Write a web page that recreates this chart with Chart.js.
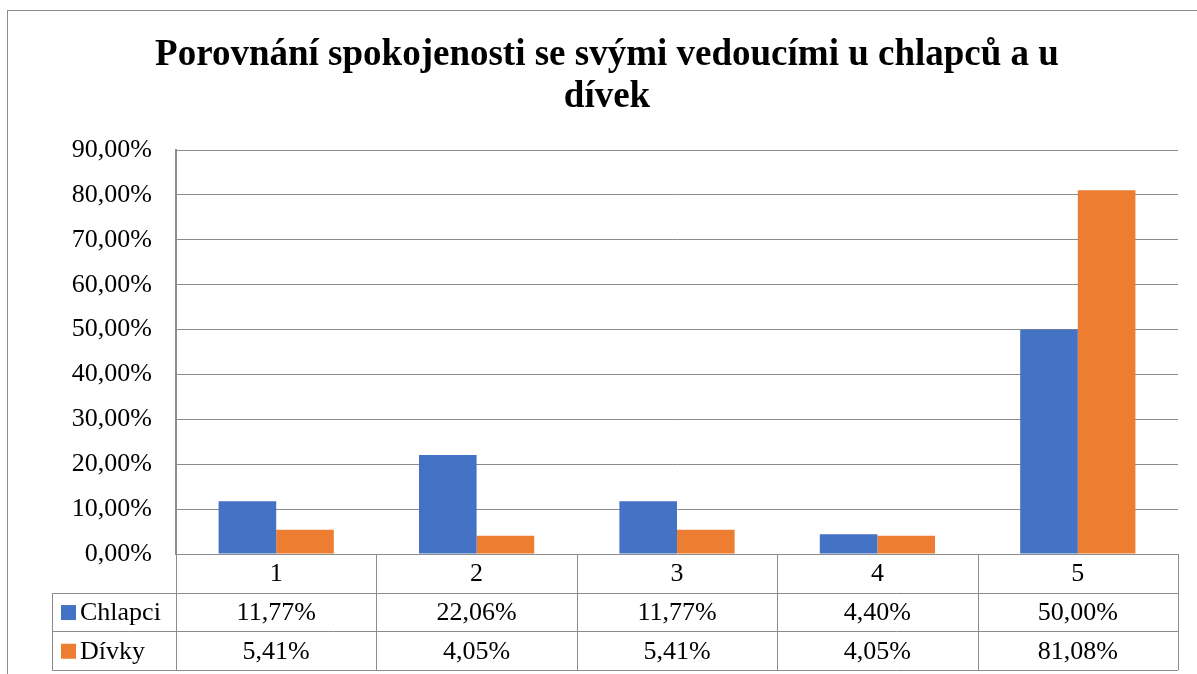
<!DOCTYPE html>
<html>
<head>
<meta charset="utf-8">
<script src="https://cdn.jsdelivr.net/npm/chart.js@4/dist/chart.umd.min.js"></script>
<style>
    html, body { margin: 0; padding: 0; background: #fff; }
    #wrap { position: absolute; left: 0; top: 0; width: 1197px; height: 674px; }
    #frame { position: absolute; left: 7px; top: 10px; width: 1200px; height: 700px; border: 1px solid #8c8c8c; box-sizing: border-box; }
    canvas { position: absolute; left: 0; top: 0; }
</style>
</head>
<body>
<div id="wrap">
    <div id="frame"></div>
    <canvas id="barChart" width="1197" height="674"></canvas>
</div>
<script>
// data
const categories = ['1', '2', '3', '4', '5'];
const chlapci = [11.77, 22.06, 11.77, 4.40, 50.00];
const divky = [5.41, 4.05, 5.41, 4.05, 81.08];
const seriesNames = ['Chlapci', 'Dívky'];
const seriesColors = ['#4472C4', '#ED7D31'];
const yTicks = [0, 10, 20, 30, 40, 50, 60, 70, 80, 90];

const FONT = '"Liberation Serif", "Times New Roman", serif';

function pct(v) {
    return v.toFixed(2).replace('.', ',') + '%';
}

// draws the data table under the plot (Excel style)
const dataTablePlugin = {
    id: 'dataTable',
    afterDraw(chart) {
        const ctx = chart.ctx;
        const x = chart.scales.x;
        const area = chart.chartArea;
        const rowH = 38.7;
        const top = area.bottom;
        const legendLeft = 52;
        const rows = [chlapci, divky];

        ctx.save();
        ctx.strokeStyle = '#8c8c8c';
        ctx.lineWidth = 1;

        // column edges from the category scale
        const step = x.getPixelForValue(1) - x.getPixelForValue(0);
        const edges = [];
        for (let i = 0; i < categories.length; i++) {
            edges.push(x.getPixelForValue(i) - step / 2);
        }
        edges.push(area.right);

        ctx.beginPath();
        edges.forEach(e => {
            ctx.moveTo(Math.round(e) + 0.5, top);
            ctx.lineTo(Math.round(e) + 0.5, Math.round(top + rowH * 3));
        });
        for (let r = 1; r <= 3; r++) {
            const yy = Math.round(top + rowH * r) + 0.5;
            ctx.moveTo(legendLeft, yy);
            ctx.lineTo(area.right, yy);
        }
        ctx.moveTo(legendLeft + 0.5, Math.round(top + rowH) + 0.5);
        ctx.lineTo(legendLeft + 0.5, Math.round(top + rowH * 3) + 0.5);
        ctx.stroke();

        ctx.fillStyle = '#000';
        ctx.font = '26px ' + FONT;
        ctx.textAlign = 'center';
        ctx.textBaseline = 'middle';
        categories.forEach((c, i) => {
            ctx.fillText(c, x.getPixelForValue(i), top + rowH / 2 + 1);
        });
        rows.forEach((vals, r) => {
            const cy = top + rowH * (r + 1.5) + 1;
            vals.forEach((v, i) => {
                ctx.fillText(pct(v), x.getPixelForValue(i), cy);
            });
            ctx.fillStyle = seriesColors[r];
            ctx.fillRect(legendLeft + 9, cy - 8, 15, 15);
            ctx.fillStyle = '#000';
            ctx.textAlign = 'left';
            ctx.fillText(seriesNames[r], legendLeft + 28, cy);
            ctx.textAlign = 'center';
        });
        ctx.restore();
    }
};

const config = {
    type: 'bar',
    data: {
        labels: categories,
        datasets: [{
            label: seriesNames[0],
            data: chlapci,
            backgroundColor: seriesColors[0]
        }, {
            label: seriesNames[1],
            data: divky,
            backgroundColor: seriesColors[1]
        }]
    },
    options: {
        responsive: false,
        animation: false,
        layout: {
            padding: { top: 34, bottom: 112, left: 36, right: 19 }
        },
        datasets: {
            bar: {
                categoryPercentage: 0.575,
                barPercentage: 1
            }
        },
        scales: {
            x: {
                grid: { display: false },
                ticks: { display: false },
                border: { display: false }
            },
            y: {
                min: 0,
                max: 90,
                afterFit(scale) {
                    scale.width = 140;
                },
                afterBuildTicks(scale) {
                    scale.ticks = yTicks.map(v => ({ value: v }));
                },
                grid: {
                    color: '#8c8c8c',
                    drawTicks: false
                },
                border: {
                    color: '#8c8c8c',
                    width: 2
                },
                ticks: {
                    color: '#000',
                    padding: 24,
                    font: { family: FONT, size: 26 },
                    callback: v => pct(v)
                }
            }
        },
        plugins: {
            legend: { display: false },
            tooltip: { enabled: false },
            title: {
                display: true,
                text: ['Porovnání spokojenosti se svými vedoucími u chlapců a u', 'dívek'],
                color: '#000',
                font: { family: FONT, size: 37, weight: 'bold', lineHeight: 1.15 },
                padding: { top: 0, bottom: 31 }
            }
        }
    },
    plugins: [dataTablePlugin]
};

new Chart(document.getElementById('barChart'), config);
</script>
</body>
</html>
